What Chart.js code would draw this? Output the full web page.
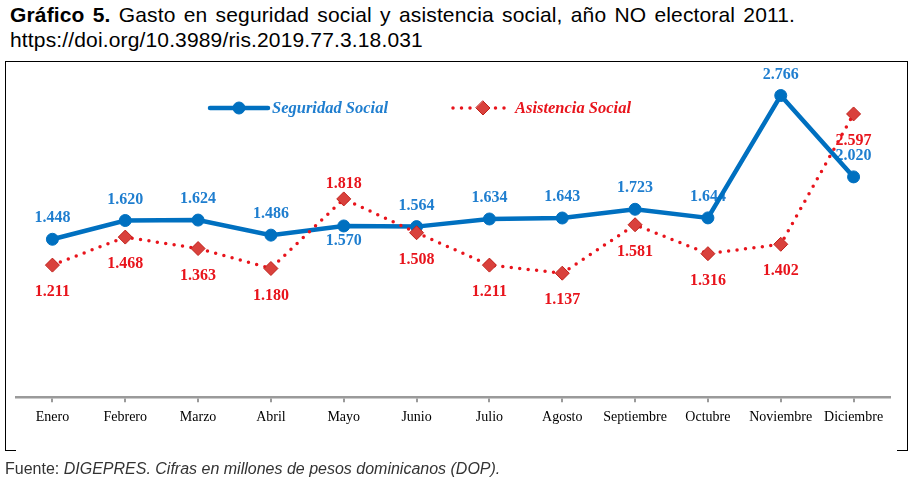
<!DOCTYPE html>
<html>
<head>
<meta charset="utf-8">
<script src="https://cdn.jsdelivr.net/npm/chart.js@4.4.1/dist/chart.umd.min.js"></script>
<style>
  html, body { margin: 0; padding: 0; background: #fff; }
  body { width: 915px; height: 482px; position: relative; overflow: hidden; }
  #title { position: absolute; left: 10px; top: 2px; font-family: "Liberation Sans", Arial, sans-serif; font-size: 21px; line-height: 25px; color: #000; white-space: nowrap; word-spacing: 2.2px; letter-spacing: 0.15px; }
  #frame { position: absolute; left: 5px; top: 61px; width: 901px; height: 389px; border-top: 1.5px solid #000; border-left: 1.5px solid #000; border-right: 1.5px solid #000; }
  #frame:before, #frame:after { content: ""; position: absolute; bottom: 0; width: 10px; border-bottom: 1.5px solid #000; }
  #frame:before { left: 0; }
  #frame:after { right: 0; }
  #wrap { position: absolute; left: 0; top: 0; width: 915px; height: 482px; }
  #foot { position: absolute; left: 5px; top: 460px; font-family: "Liberation Sans", Arial, sans-serif; font-size: 16px; color: #333; white-space: nowrap; }
</style>
</head>
<body>
<div id="title"><b>Gráfico 5.</b> Gasto en seguridad social y asistencia social, año NO electoral 2011.<br>https://doi.org/10.3989/ris.2019.77.3.18.031</div>
<div id="frame"></div>
<div id="wrap"><canvas id="chart" width="915" height="482"></canvas></div>
<div id="foot">Fuente: <i>DIGEPRES. Cifras en millones de pesos dominicanos (DOP).</i></div>
<script>
const months = ['Enero', 'Febrero', 'Marzo', 'Abril', 'Mayo', 'Junio', 'Julio', 'Agosto', 'Septiembre', 'Octubre', 'Noviembre', 'Diciembre'];
// millones de DOP
const seguridad = [1448, 1620, 1624, 1486, 1570, 1564, 1634, 1643, 1723, 1644, 2766, 2020];
const asistencia = [1211, 1468, 1363, 1180, 1818, 1508, 1211, 1137, 1581, 1316, 1402, 2597];
const seriesNames = ['Seguridad Social', 'Asistencia Social'];

const BLUE = '#0070C0';
const BLUE_TXT = '#1F7ECF';
const RED = '#E8141C';

function fmt(v) {
  return v.toString().replace(/\B(?=(\d{3})+(?!\d))/g, '.');
}

// value labels, drawn under the lines like in the original
const valueLabels = {
  id: 'valueLabels',
  beforeDatasetsDraw(chart) {
    const ctx = chart.ctx;
    ctx.save();
    ctx.font = 'bold 16px "Liberation Serif", "Times New Roman", serif';
    ctx.textAlign = 'center';
    ctx.textBaseline = 'middle';
    chart.data.datasets.forEach((ds, i) => {
      const meta = chart.getDatasetMeta(i);
      ctx.fillStyle = ds.labelColor;
      meta.data.forEach((pt, j) => {
        // default: blue above, red below; May is swapped
        let up = ds.labelAbove;
        if (j === 4) up = !up;
        const off = j === 4 ? 15 : (up ? 21 : 27);
        ctx.fillText(fmt(ds.data[j]), pt.x, up ? pt.y - off : pt.y + off);
      });
    });
    ctx.restore();
  }
};

// legend drawn inside the plot like the original
const lineLegend = {
  id: 'lineLegend',
  afterDraw(chart) {
    const ctx = chart.ctx;
    const items = [
      { ds: chart.data.datasets[0], x0: 210, x1: 268, mx: 239, tx: 272 },
      { ds: chart.data.datasets[1], x0: 453, x1: 506, mx: 483, tx: 515 }
    ];
    const y = 108;
    ctx.save();
    items.forEach(it => {
      const ds = it.ds;
      ctx.strokeStyle = ds.borderColor;
      ctx.lineWidth = ds.borderWidth;
      ctx.lineCap = 'round';
      ctx.setLineDash(ds.borderDash || []);
      ctx.beginPath();
      ctx.moveTo(it.x0, y);
      ctx.lineTo(it.x1, y);
      ctx.stroke();
      ctx.setLineDash([]);
      ctx.fillStyle = ds.pointBackgroundColor;
      ctx.strokeStyle = ds.pointBorderColor;
      ctx.lineWidth = ds.pointBorderWidth;
      ctx.beginPath();
      if (ds.pointStyle === 'rectRot') {
        const r = ds.pointRadius;
        ctx.moveTo(it.mx, y - r);
        ctx.lineTo(it.mx + r, y);
        ctx.lineTo(it.mx, y + r);
        ctx.lineTo(it.mx - r, y);
        ctx.closePath();
      } else {
        ctx.arc(it.mx, y, ds.pointRadius, 0, Math.PI * 2);
      }
      ctx.fill();
      ctx.stroke();
      ctx.fillStyle = ds.labelColor;
      ctx.font = 'italic bold 16.5px "Liberation Serif", "Times New Roman", serif';
      ctx.textBaseline = 'middle';
      ctx.textAlign = 'left';
      ctx.fillText(ds.label, it.tx, y + 1);
    });
    ctx.restore();
  }
};

new Chart(document.getElementById('chart'), {
  type: 'line',
  data: {
    labels: months,
    datasets: [
      {
        label: seriesNames[0],
        data: seguridad,
        borderColor: BLUE,
        borderWidth: 4.5,
        pointStyle: 'circle',
        pointRadius: 6,
        pointBackgroundColor: BLUE,
        pointBorderColor: BLUE,
        pointBorderWidth: 1,
        labelColor: BLUE_TXT,
        labelAbove: true,
        order: 1,
        tension: 0
      },
      {
        label: seriesNames[1],
        data: asistencia,
        borderColor: RED,
        borderWidth: 3.5,
        borderDash: [0, 8.5],
        borderCapStyle: 'round',
        pointStyle: 'rectRot',
        pointRadius: 7,
        pointBackgroundColor: '#D9413C',
        pointBorderColor: '#C0201A',
        pointBorderWidth: 1,
        labelColor: RED,
        labelAbove: false,
        order: 0,
        tension: 0
      }
    ]
  },
  options: {
    responsive: false,
    animation: false,
    devicePixelRatio: 1,
    layout: { padding: { left: 16, right: 25, top: 70, bottom: 49 } },
    plugins: {
      legend: { display: false },
      tooltip: { enabled: false }
    },
    scales: {
      y: { display: false, min: 0, max: 3000 },
      x: {
        offset: true,
        grid: { drawOnChartArea: false, tickLength: 5, color: '#9A9A9A', lineWidth: 2 },
        border: { color: '#9A9A9A', width: 2.5 },
        ticks: {
          color: '#000',
          padding: 7,
          maxRotation: 0,
          autoSkip: false,
          font: { family: '"Liberation Serif", "Times New Roman", serif', size: 14 }
        }
      }
    }
  },
  plugins: [valueLabels, lineLegend]
});
</script>
</body>
</html>
